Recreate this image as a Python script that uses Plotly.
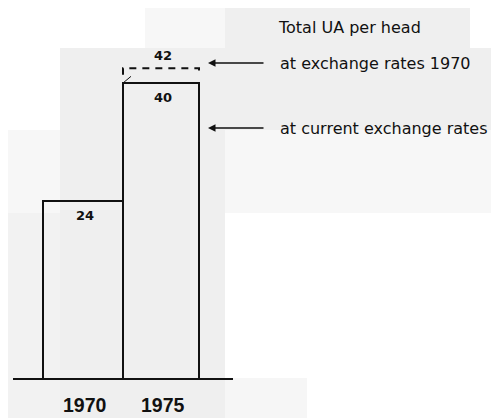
import plotly.graph_objects as go

# data
years = ["1970", "1975"]
current_rates = [24, 40]          # Total UA per head at current exchange rates
rates_1970 = [None, 42]           # at 1970 exchange rates (only shown for 1975)
legend_title = "Total UA per head"
legend_1970 = "at exchange rates 1970"
legend_current = "at current exchange rates"

# the page body has an 8px margin, so the figure is drawn 8px in from the corner
OFF = 8
W, H = 499 - OFF, 418 - OFF
FONT = "DejaVu Sans, Arial, sans-serif"
YEAR_FONT = "Liberation Sans, Arial, sans-serif"
INK = "#111111"


def px(x):
    return (x - OFF) / W


def py(y):
    return 1 - (y - OFF) / H


pos = list(range(len(years)))
bar_widths = [1.0, 0.95]

fig = go.Figure()

# scanned-page background patches (window pixel boxes)
patches = [
    (145, 0, 225, 48, "#f7f7f7"),
    (225, 0, 470, 48, "#efefef"),
    (60, 48, 499, 130, "#efefef"),
    (0, 130, 60, 213, "#f7f7f7"),
    (0, 213, 60, 418, "#f2f2f2"),
    (60, 130, 225, 418, "#efefef"),
    (225, 130, 499, 213, "#f7f7f7"),
    (225, 378, 307, 418, "#f6f6f6"),
]
for x0, y0, x1, y1, c in patches:
    fig.add_shape(
        type="rect", xref="paper", yref="paper",
        x0=px(x0), x1=px(x1), y0=py(y1), y1=py(y0),
        fillcolor=c, line=dict(width=0), layer="below",
    )

fig.add_trace(go.Bar(
    x=pos, y=current_rates, width=bar_widths, offset=-0.5,
    marker=dict(color="rgba(0,0,0,0)", line=dict(color=INK, width=2)),
    hoverinfo="skip", showlegend=False,
))

# dashed outline for the 1970-exchange-rate value
for i, v in enumerate(rates_1970):
    if v is None:
        continue
    left = pos[i] - 0.5
    right = left + bar_widths[i]
    fig.add_trace(go.Scatter(
        x=[left, left, right, right], y=[v - 0.9, v, v, v - 0.9],
        mode="lines", line=dict(color=INK, width=2, dash="7px,6px"),
        hoverinfo="skip", showlegend=False,
    ))
    # small tick joining the two tops
    fig.add_trace(go.Scatter(
        x=[left, left + 0.1], y=[current_rates[i], current_rates[i] + 0.9],
        mode="lines", line=dict(color=INK, width=1),
        hoverinfo="skip", showlegend=False,
    ))
    fig.add_annotation(
        x=left + bar_widths[i] / 2 + 0.02, y=v, text=f"<b>{v}</b>", showarrow=False,
        yanchor="bottom", yshift=3, font=dict(family=FONT, size=13, color=INK),
    )

# value labels just inside bar tops, year labels under the baseline
for i, v in enumerate(current_rates):
    cx = pos[i] - 0.5 + bar_widths[i] / 2 + 0.02
    fig.add_annotation(
        x=cx, y=v, text=f"<b>{v}</b>",
        showarrow=False, yanchor="top", yshift=-5,
        font=dict(family=FONT, size=13, color=INK),
    )
    fig.add_annotation(
        x=cx, y=0, text=f"<b>{years[i]}</b>",
        showarrow=False, yanchor="middle", yshift=-26,
        font=dict(family=YEAR_FONT, size=19.5, color=INK),
    )

# baseline
fig.add_shape(
    type="line", xref="paper", yref="y", x0=px(13), x1=px(233), y0=0, y1=0,
    line=dict(color=INK, width=2),
)

# key text and arrows
fig.add_annotation(
    xref="paper", yref="paper", x=px(276), y=py(27), text=legend_title,
    showarrow=False, xanchor="left", yanchor="middle",
    font=dict(family=FONT, size=16, color=INK),
)
for yy, label in [(63, legend_1970), (128, legend_current)]:
    fig.add_annotation(
        xref="paper", yref="paper", x=px(278), y=py(yy), text=label,
        showarrow=False, xanchor="left", yanchor="middle",
        font=dict(family=FONT, size=16, color=INK),
    )
    fig.add_annotation(
        xref="paper", yref="paper", x=px(208), y=py(yy), text="",
        showarrow=True, ax=57, ay=0, arrowhead=2, arrowsize=1,
        arrowwidth=1.5, arrowcolor=INK,
    )

px_per_unit_x = 80.0
px_per_unit_y = 7.4
x_origin, y_base = 83.0 - OFF, 379.0 - OFF
fig.update_xaxes(
    range=[-x_origin / px_per_unit_x, (W - x_origin) / px_per_unit_x],
    visible=False, showgrid=False, zeroline=False,
)
fig.update_yaxes(
    range=[-(H - y_base) / px_per_unit_y, y_base / px_per_unit_y],
    visible=False, showgrid=False, zeroline=False,
)
fig.update_layout(
    width=W, height=H, margin=dict(l=0, r=0, t=0, b=0),
    paper_bgcolor="white", plot_bgcolor="rgba(0,0,0,0)",
    bargap=0,
)
fig.write_html("out.html")
